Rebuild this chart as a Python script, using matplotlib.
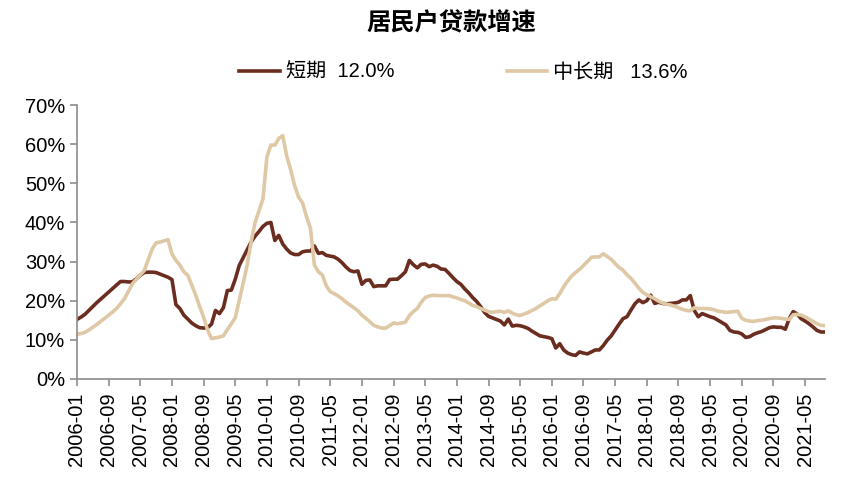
import matplotlib
matplotlib.use("Agg")
import matplotlib.pyplot as plt
import numpy as np
import pandas as pd

plt.rcParams['font.family'] = ['Liberation Sans', 'Noto Sans CJK SC', 'DejaVu Sans']

months = pd.date_range("2006-01", periods=190, freq="MS").strftime("%Y-%m").tolist()

short_term = [
    15.2, 15.8, 16.5, 17.5, 18.5, 19.5, 20.4, 21.3, 22.2, 23.1,
    24.0, 24.9, 24.9, 24.8, 24.8, 25.6, 26.5, 27.2, 27.3, 27.3,
    27.2, 26.8, 26.4, 26.0, 25.4, 19.0, 18.0, 16.3, 15.3, 14.3,
    13.6, 13.1, 13.0, 13.1, 14.0, 17.5, 16.7, 18.2, 22.6, 22.7,
    25.5, 29.0, 31.0, 33.0, 35.0, 36.5, 37.7, 39.0, 39.8, 40.0,
    35.4, 36.7, 34.5, 33.2, 32.2, 31.8, 31.8, 32.5, 32.7, 32.7,
    34.0, 32.1, 32.3, 31.6, 31.4, 31.2, 30.6, 29.7, 28.6, 27.7,
    27.4, 27.6, 24.2, 25.2, 25.3, 23.6, 23.8, 23.8, 23.8, 25.4,
    25.5, 25.5, 26.4, 27.4, 30.3, 29.2, 28.4, 29.3, 29.4, 28.7,
    29.1, 28.8, 28.1, 28.0, 27.0, 25.9, 24.9, 24.2, 23.0, 22.0,
    20.8, 19.8, 18.5, 17.0, 16.0, 15.6, 15.2, 14.8, 13.8, 15.3,
    13.5, 13.7, 13.6, 13.3, 12.9, 12.2, 11.6, 11.0, 10.8, 10.6,
    10.3, 7.9, 9.0, 7.4, 6.6, 6.2, 6.0, 6.9, 6.6, 6.4,
    6.9, 7.4, 7.4, 8.5, 9.9, 11.0, 12.5, 14.0, 15.4, 15.9,
    17.6, 19.2, 20.2, 19.5, 20.0, 21.4, 19.3, 19.6, 19.3, 19.2,
    19.3, 19.4, 19.6, 20.2, 20.2, 21.3, 17.5, 15.9, 16.7, 16.3,
    15.9, 15.6, 15.0, 14.4, 13.8, 12.4, 12.0, 11.9, 11.5, 10.6,
    10.8, 11.4, 11.8, 12.1, 12.6, 13.1, 13.3, 13.2, 13.2, 12.7,
    15.4, 17.2, 16.6, 15.4, 14.8, 14.1, 13.3, 12.4, 12.0, 12.0,
]

mid_long_term = [
    11.4, 11.6, 11.9, 12.5, 13.2, 13.9, 14.7, 15.5, 16.3, 17.1,
    18.0, 19.2, 20.5, 22.4, 24.3, 25.5, 26.6, 27.7, 30.5, 33.2,
    34.8, 35.0, 35.3, 35.6, 32.0, 30.3, 29.1, 27.4, 26.5, 24.0,
    21.4, 18.5, 15.8, 12.5, 10.3, 10.5, 10.7, 11.0, 12.6, 14.1,
    15.6, 20.0, 24.5, 29.1, 35.0, 40.0, 43.0, 46.0, 56.8, 59.8,
    59.8, 61.5, 62.2, 57.0, 53.5, 49.5, 46.5, 45.0, 41.5, 38.5,
    29.1, 27.4, 26.6, 23.8, 22.3, 21.8, 21.2, 20.5, 19.6, 18.9,
    18.2, 17.4, 16.3, 15.5, 14.6, 13.7, 13.3, 13.0, 13.0, 13.6,
    14.3, 14.1, 14.3, 14.5, 16.2, 17.2, 18.0, 19.6, 20.8, 21.2,
    21.4, 21.3, 21.3, 21.3, 21.3, 21.0, 20.7, 20.3, 20.0, 19.4,
    18.8, 18.5, 18.0, 17.6, 17.2, 17.0, 17.2, 17.3, 17.0, 17.4,
    16.8, 16.4, 16.2, 16.6, 17.0, 17.5, 18.0, 18.7, 19.3, 20.0,
    20.5, 20.4, 21.8, 23.6, 25.0, 26.3, 27.2, 28.0, 29.0, 30.0,
    31.1, 31.2, 31.2, 32.0, 31.3, 30.6, 29.5, 28.5, 27.8, 26.6,
    25.7, 24.5, 23.2, 22.1, 21.5, 21.0, 20.5, 19.9, 19.4, 19.1,
    18.9, 18.6, 18.2, 17.8, 17.5, 17.4, 18.2, 18.0, 18.0, 18.0,
    17.9, 17.7, 17.3, 17.2, 17.0, 17.1, 17.2, 17.3, 15.5, 15.0,
    14.8, 14.7, 14.9, 15.0, 15.2, 15.4, 15.6, 15.6, 15.5, 15.3,
    15.2, 16.4, 16.5, 16.3, 15.9, 15.3, 14.7, 14.1, 13.7, 13.6,
]

labels = ["短期  12.0%", "中长期   13.6%"]
title = "居民户贷款增速"
y_ticks = [0, 10, 20, 30, 40, 50, 60, 70]

dark = "#6B2D1F"
light = "#DFC8A5"
grey = "#8C8C8C"

fig = plt.figure(figsize=(8.46, 4.87), dpi=100)
ax = fig.add_axes([0.091, 0.222, 0.884, 0.562])

x = np.arange(len(months))
ax.plot(x, short_term, color=dark, lw=2.6, label=labels[0], solid_joinstyle="round")
ax.plot(x, mid_long_term, color=light, lw=2.6, label=labels[1], solid_joinstyle="round")

ax.set_xlim(0, len(months) - 1)
ax.set_ylim(0, 70)
ax.set_yticks(y_ticks)
ax.set_yticklabels([f"{v}%" for v in y_ticks])
tick_pos = x[::8]
ax.set_xticks(tick_pos)
ax.set_xticklabels([months[i] for i in tick_pos], rotation=90)

for s in ["top", "right"]:
    ax.spines[s].set_visible(False)
for s in ["left", "bottom"]:
    ax.spines[s].set_color(grey)
    ax.spines[s].set_linewidth(1.2)
ax.tick_params(axis="both", colors=grey, width=1.2, length=5, labelcolor="black", labelsize=14.5)
ax.tick_params(axis="x", pad=5)

fig.text(0.534, 0.952, title, ha="center", va="center", fontsize=17.5, fontweight="bold",
         family=['Noto Sans CJK SC', 'DejaVu Sans'])

leg = ax.legend(loc="center", bbox_to_anchor=(0.517, 1.12), ncol=2, frameon=False,
                fontsize=14.5, handlelength=2.0, handletextpad=0.3, columnspacing=5.6,
                borderaxespad=0)

fig.savefig("out.png", dpi=100)
